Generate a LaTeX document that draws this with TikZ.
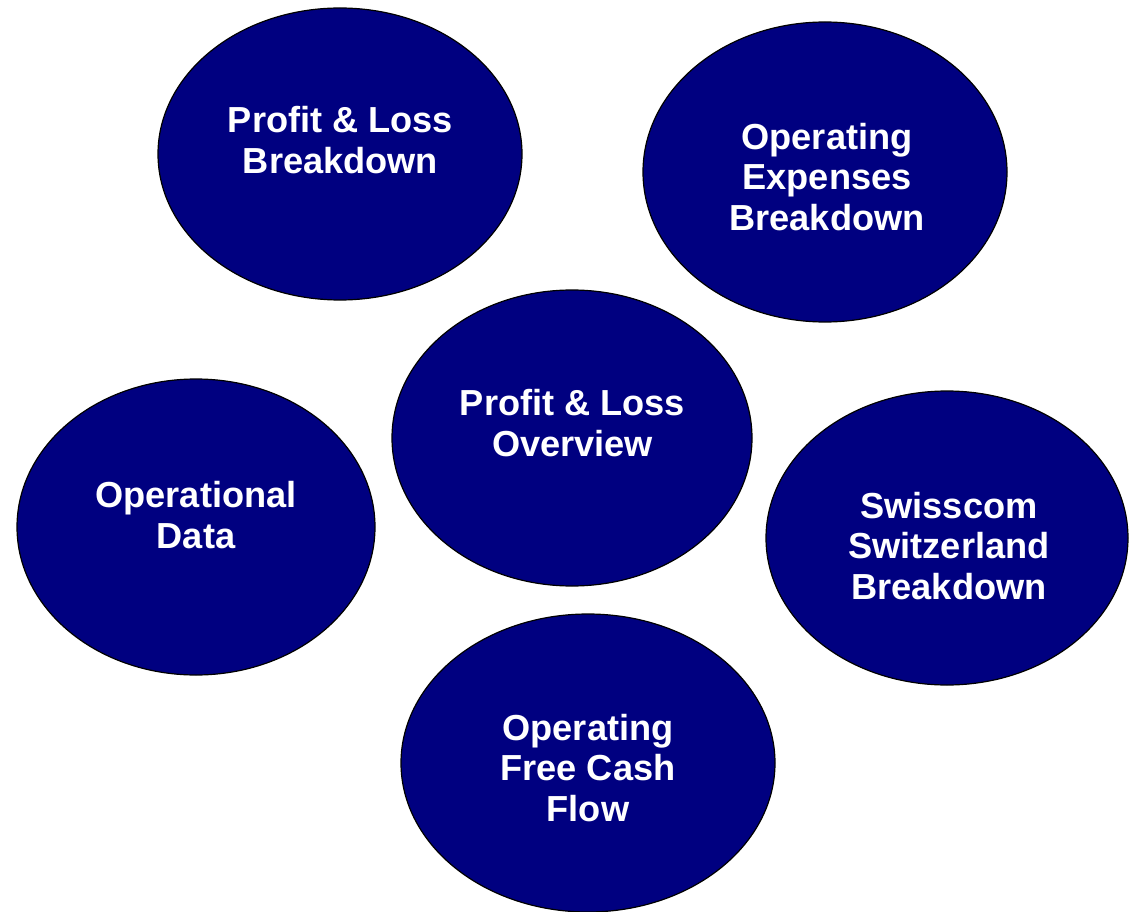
\documentclass[tikz,border=0pt]{standalone}
\usepackage{fontspec}
\setmainfont{Liberation Sans}
\usetikzlibrary{shapes.geometric}
\definecolor{navyfill}{HTML}{000080}
\begin{document}
\begin{tikzpicture}[x=1pt,y=-1pt,
  bubble/.style={ellipse, draw=black, line width=1.2pt, fill=navyfill, inner sep=0pt},
  lbl/.style={text=white, align=center, inner sep=0pt,
    font=\fontsize{36.2}{40.8}\selectfont\bfseries}]
\useasboundingbox (0,0) rectangle (1135,912);
\fill[white] (0,0) rectangle (1135,912);
\node[bubble, minimum width=364pt, minimum height=292pt] (plb) at (340,154) {};
\node[bubble, minimum width=364pt, minimum height=300pt] (oeb) at (825,172) {};
\node[bubble, minimum width=360pt, minimum height=296pt] (plo) at (572,438) {};
\node[bubble, minimum width=358pt, minimum height=296pt] (opd) at (196,527) {};
\node[bubble, minimum width=362pt, minimum height=294pt] (ssb) at (947,538) {};
\node[bubble, minimum width=374pt, minimum height=298pt] (ofc) at (588,763) {};
\node[lbl] (tplb) at (340.5,140) {Profit \& Loss\\Breakdown};
\node[lbl] (toeb) at (827,177) {Operating\\Expenses\\Breakdown};
\node[lbl] (tplo) at (572.5,423) {Profit \& Loss\\Overview};
\node[lbl] (topd) at (196,515) {Operational\\Data};
\node[lbl] (tssb) at (949,546) {Swisscom\\Switzerland\\Breakdown};
\node[lbl] (tofc) at (588,768) {Operating\\Free Cash\\Flow};
\end{tikzpicture}
\end{document}
